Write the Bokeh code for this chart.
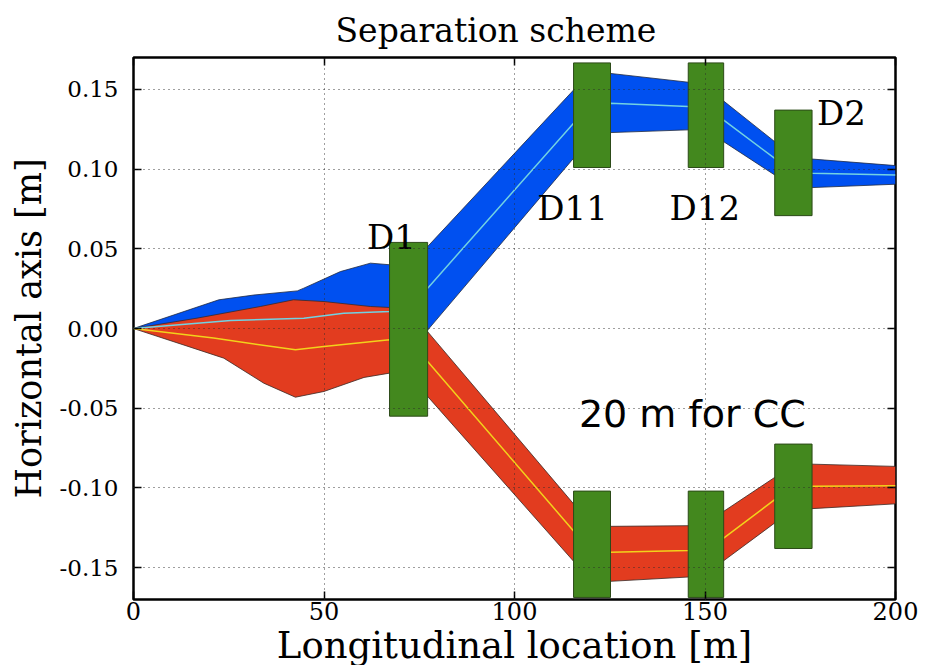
from bokeh.plotting import figure
from bokeh.models import Label, LinearAxis, FixedTicker, PrintfTickFormatter, Range1d, ColumnDataSource, Title
from bokeh.embed import file_html
from bokeh.resources import INLINE
from bokeh.core.properties import value

# ---------------- data ----------------
x_ticks = [0, 50, 100, 150, 200]
y_ticks = [-0.15, -0.10, -0.05, 0.0, 0.05, 0.10, 0.15]

# blue beam envelope (upper beam)
blue_top_x = [0, 22.4, 31.6, 43.0, 44.7, 54.3, 62.2, 67.2, 77.2, 115.5, 125.2, 145.6, 154.9, 168.3, 178.1, 200]
blue_top_y = [0, 0.018, 0.021, 0.0236, 0.0253, 0.0357, 0.041, 0.040, 0.0514, 0.1496, 0.160, 0.1545, 0.1427, 0.1172, 0.1063, 0.1022]
blue_bot_x = [0, 22.4, 43.0, 67.2, 77.2, 115.5, 125.2, 145.6, 154.9, 168.3, 178.1, 200]
blue_bot_y = [0, -0.009, -0.010, -0.018, -0.001, 0.1068, 0.1229, 0.1246, 0.1172, 0.0963, 0.0884, 0.0905]
blue_orbit_x = [0, 25.5, 44.7, 55.2, 67.2, 77.2, 115.5, 125.2, 145.6, 154.9, 168.3, 178.1, 200]
blue_orbit_y = [0, 0.005, 0.0065, 0.0096, 0.0107, 0.0253, 0.1287, 0.1413, 0.1392, 0.1307, 0.1067, 0.0974, 0.0963]

# red beam envelope (lower beam)
red_top_x = [0, 16.7, 33.3, 42.0, 50.0, 62.2, 67.2, 77.2, 115.5, 125.2, 145.6, 154.9, 168.3, 178.1, 200]
red_top_y = [0, 0.0065, 0.0138, 0.018, 0.0169, 0.0138, 0.0132, -0.002, -0.110, -0.1241, -0.1237, -0.1147, -0.0934, -0.0851, -0.0865]
red_bot_x = [0, 23.7, 34.2, 42.5, 50.0, 60.5, 67.2, 77.2, 115.5, 125.2, 145.6, 154.9, 168.3, 178.1, 200]
red_bot_y = [0, -0.0186, -0.0343, -0.0431, -0.0395, -0.0307, -0.028, -0.0426, -0.146, -0.1586, -0.1559, -0.1457, -0.122, -0.113, -0.110]
red_orbit_x = [0, 21.0, 42.5, 50.0, 67.2, 77.2, 115.5, 125.2, 145.6, 154.9, 168.3, 178.1, 200]
red_orbit_y = [0, -0.006, -0.0134, -0.0113, -0.0071, -0.0207, -0.127, -0.1404, -0.1392, -0.1315, -0.1074, -0.099, -0.0986]

# separation dipoles
magnet_left = [67.2, 115.5, 115.5, 145.6, 145.6, 168.3, 168.3]
magnet_right = [77.2, 125.2, 125.2, 154.9, 154.9, 178.1, 178.1]
magnet_top = [0.054, 0.1666, -0.102, 0.1666, -0.102, 0.137, -0.0725]
magnet_bottom = [-0.055, 0.101, -0.1687, 0.101, -0.1687, 0.0708, -0.138]

magnet_names = ["D1", "D11", "D12", "D2"]
name_x = [61.3, 106.0, 140.7, 179.4]
name_y = [0.0577, 0.0754, 0.0754, 0.135]

title_text = "Separation scheme"
x_label = "Longitudinal location [m]"
y_label = "Horizontal axis [m]"
note_text = "20 m for CC"

# ---------------- figure ----------------
SERIF = "DejaVu Serif"

p = figure(frame_width=762, frame_height=542, title=None,
           x_range=Range1d(0, 200), y_range=Range1d(-0.17, 0.17),
           output_backend="svg", toolbar_location=None,
           min_border_left=133, min_border_right=30,
           min_border_top=57, min_border_bottom=66)
p.background_fill_color = "white"
p.border_fill_color = "white"
p.outline_line_color = "black"
p.outline_line_width = 2.5

# bands
p.patch(x=blue_top_x + blue_bot_x[::-1], y=blue_top_y + blue_bot_y[::-1],
        fill_color="#0050f0", line_color="#202a40", line_width=0.8)
p.patch(x=red_top_x + red_bot_x[::-1], y=red_top_y + red_bot_y[::-1],
        fill_color="#e23c1f", line_color="#3a2a26", line_width=0.8)
p.line(blue_orbit_x, blue_orbit_y, line_color="#72d2e2", line_width=1.5)
p.line(red_orbit_x, red_orbit_y, line_color="#f2d21b", line_width=1.5)

# magnets
p.quad(left=magnet_left, right=magnet_right, top=magnet_top, bottom=magnet_bottom,
       fill_color="#43881e", line_color="#2c4a18", line_width=1)

# grid on top
p.xgrid.ticker = FixedTicker(ticks=x_ticks)
p.ygrid.ticker = FixedTicker(ticks=y_ticks)
p.grid.grid_line_color = "#2a2a2a"
p.grid.grid_line_dash = "1 4"
p.grid.grid_line_width = 1
p.grid.grid_line_alpha = 0.9
p.grid.level = "overlay"

# axes
xax = p.xaxis[0]
xax.ticker = FixedTicker(ticks=x_ticks)
xax.major_label_text_font = SERIF
xax.major_label_text_font_size = "24px"
xax.major_label_text_color = "black"
xax.major_label_standoff = 2
xax.major_tick_in = 8
xax.major_tick_out = 0
xax.major_tick_line_width = 1.5
xax.minor_tick_line_color = None
xax.axis_line_color = None
xax.axis_label = x_label
xax.axis_label_text_font = SERIF
xax.axis_label_text_font_size = "37px"
xax.axis_label_text_font_style = "normal"
xax.axis_label_text_color = "black"
xax.axis_label_standoff = 1

yax = p.yaxis[0]
yax.ticker = FixedTicker(ticks=y_ticks)
yax.formatter = PrintfTickFormatter(format="%.2f")
yax.major_label_text_font = SERIF
yax.major_label_text_font_size = "23px"
yax.major_label_text_color = "black"
yax.major_label_standoff = 15
yax.major_tick_in = 8
yax.major_tick_out = 0
yax.major_tick_line_width = 1.5
yax.minor_tick_line_color = None
yax.axis_line_color = None
yax.axis_label = y_label
yax.axis_label_text_font = SERIF
yax.axis_label_text_font_size = "35px"
yax.axis_label_text_font_style = "normal"
yax.axis_label_text_color = "black"
yax.axis_label_standoff = 8

top_ax = LinearAxis(ticker=FixedTicker(ticks=x_ticks), major_label_text_font_size="0px",
                    major_label_text_color=None, major_label_standoff=0,
                    major_tick_in=8, major_tick_out=0,
                    major_tick_line_width=1.5, minor_tick_line_color=None, axis_line_color=None)
right_ax = LinearAxis(ticker=FixedTicker(ticks=y_ticks), major_label_text_font_size="0px",
                      major_label_text_color=None, major_label_standoff=0,
                      major_tick_in=8, major_tick_out=0,
                      major_tick_line_width=1.5, minor_tick_line_color=None, axis_line_color=None)
p.add_layout(top_ax, "above")
p.add_layout(right_ax, "right")

p.add_layout(Title(text=title_text, align="left", offset=202, standoff=15,
                   text_font=SERIF, text_font_size="33px", text_font_style="normal",
                   text_color="black"), "above")

# magnet names
src = ColumnDataSource(dict(x=name_x, y=name_y, t=magnet_names))
p.text(x="x", y="y", text="t", source=src, text_font=value(SERIF), text_font_size="34px",
       text_color="black", text_align="left", text_baseline="alphabetic")

# annotation inside the frame
p.add_layout(Label(x=116.9, y=-0.0539, text=note_text, text_font="DejaVu Sans",
                   text_font_size="38px", text_color="black", text_baseline="alphabetic"))

open("out.html", "w").write(file_html(p, INLINE))
